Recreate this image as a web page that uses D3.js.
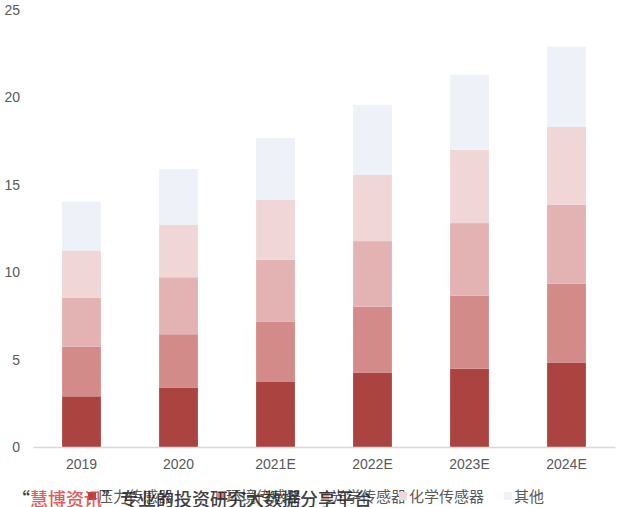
<!DOCTYPE html>
<html>
<head>
<meta charset="utf-8">
<script src="https://cdn.jsdelivr.net/npm/d3@7"></script>
<style>
html,body{margin:0;padding:0;background:#fff;}
svg{display:block;}
</style>
</head>
<body>
<svg id="chart" width="640" height="507"></svg>
<script>
const categories = ["2019", "2020", "2021E", "2022E", "2023E", "2024E"];
const seriesNames = ["压力传感器", "环境传感器", "光学传感器", "化学传感器", "其他"];
const pressure  = [2.90, 3.38, 3.72, 4.24, 4.48, 4.81];
const environ   = [2.83, 3.07, 3.46, 3.78, 4.18, 4.54];
const optical   = [2.80, 3.26, 3.53, 3.76, 4.15, 4.51];
const chemical  = [2.71, 2.99, 3.42, 3.78, 4.19, 4.45];
const others    = [2.80, 3.20, 3.55, 4.01, 4.30, 4.60];
const yTicks = [0, 5, 10, 15, 20, 25];
const colors = ["#ab4441", "#d38b8a", "#e3b3b3", "#f0d6d7", "#eef2f8"];

const seriesValues = [pressure, environ, optical, chemical, others];
const rows = categories.map((c, i) => {
  const r = {cat: c};
  seriesNames.forEach((s, j) => r[s] = seriesValues[j][i]);
  return r;
});

const svg = d3.select("#chart");
const x = d3.scaleBand().domain(categories).range([33, 615]).paddingInner(0.6).paddingOuter(0.3);
const y = d3.scaleLinear().domain([0, 25]).range([447, 10]);

const stack = d3.stack().keys(seriesNames)(rows);

svg.append("g").selectAll("g").data(stack).join("g")
  .attr("fill", (d, i) => colors[i])
  .selectAll("rect").data(d => d).join("rect")
  .attr("x", d => x(d.data.cat))
  .attr("width", x.bandwidth())
  .attr("y", d => y(d[1]))
  .attr("height", d => y(d[0]) - y(d[1]));

// y axis labels
const yAxis = d3.axisLeft(y).tickValues(yTicks).tickSize(0).tickPadding(0);
const gy = svg.append("g").attr("transform", "translate(20,0)").call(yAxis);
gy.select(".domain").remove();
gy.selectAll("text").attr("fill", "#595959").style("font-family", "Liberation Sans, Arial, sans-serif").style("font-size", "14px");

// x axis
const xAxis = d3.axisBottom(x).tickSize(0).tickPadding(12);
const gx = svg.append("g").attr("transform", "translate(0,447)").call(xAxis);
gx.select(".domain").attr("stroke", "#d9d9d9").attr("stroke-width", 1.3);
gx.selectAll("text").attr("fill", "#595959").style("font-family", "Liberation Sans, Arial, sans-serif").style("font-size", "14px");

// legend
const legendX = [88, 216, 321, 399, 504];
const lg = svg.append("g").selectAll("g").data(seriesNames).join("g")
  .attr("transform", (d, i) => `translate(${legendX[i]},497)`);
lg.append("rect").attr("x", 0).attr("y", -5).attr("width", 8).attr("height", 8)
  .attr("fill", (d, i) => colors[i]);
lg.append("text").attr("x", 10).attr("y", 0).attr("dy", "0.35em")
  .attr("fill", "#595959")
  .style("font-family", "Noto Sans CJK SC, sans-serif").style("font-size", "15px")
  .text(d => d);

// watermark
const wm = svg.append("text").attr("x", 12).attr("y", 506)
  .style("font-family", "Noto Sans CJK SC, sans-serif").style("font-size", "18px").style("font-weight", "500")
  .attr("opacity", 0.85);
wm.append("tspan").attr("fill", "#222").text("“");
wm.append("tspan").attr("fill", "#e0403a").text("慧博资讯");
wm.append("tspan").attr("fill", "#222").text("”专业的投资研究大数据分享平台");
</script>
</body>
</html>
